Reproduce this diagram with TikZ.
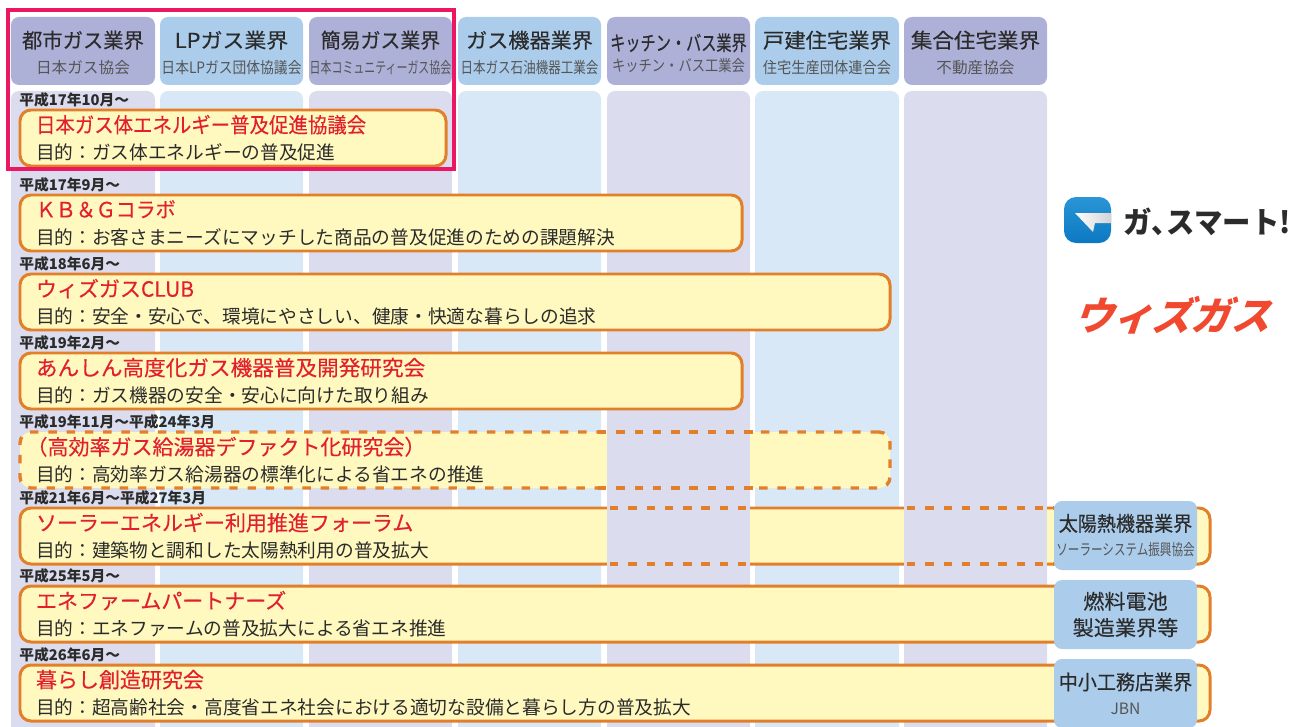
\documentclass[tikz,border=0pt]{standalone}
\usepackage{graphicx}
\usepackage{fontspec}
\setmainfont{Noto Sans CJK JP}
\newfontfamily\midfont[FakeBold=.25]{Noto Sans CJK JP}
\newfontfamily\wzfont[FakeSlant=.35]{Noto Sans CJK JP}
\definecolor{headlav}{HTML}{ADB1D8}
\definecolor{headblue}{HTML}{ABCDEB}
\definecolor{bodylav}{HTML}{DBDCEE}
\definecolor{bodyblue}{HTML}{D9E8F6}
\definecolor{bandfill}{HTML}{FFF9C0}
\definecolor{bandline}{HTML}{E27F2A}
\definecolor{bandred}{HTML}{E21F2E}
\definecolor{framepink}{HTML}{EB1763}
\definecolor{inkdark}{HTML}{2B2B2B}
\definecolor{inkgrey}{HTML}{555555}
\definecolor{wzred}{HTML}{F0492F}
\definecolor{icontop}{HTML}{2A96D6}
\definecolor{iconlow}{HTML}{0B78C2}
\newcommand{\hname}[2]{\scalebox{#1}[1]{\fontsize{11.67}{14}\selectfont\midfont\color{inkdark}#2}}
\newcommand{\hsub}[2]{\scalebox{#1}[1]{\fontsize{8.9}{11}\selectfont\color{inkgrey}#2}}
\tikzset{
 headbox/.style={anchor=north west,rounded corners=.16cm,inner sep=0pt,outer sep=0pt,align=center,
  minimum height=68*.02cm},
 bandbox/.style={anchor=north west,rounded corners=.22cm,fill=bandfill,draw=bandline,
  line width=1.7pt,inner xsep=16*.02cm,inner ysep=0pt,outer sep=0pt,align=left,
  minimum height=56*.02cm,font=\fontsize{10.65}{15.3}\selectfont,text=inkdark},
 solidband/.style={},
 dashband/.style={line width=1.9pt,dash pattern=on 4.8pt off 5.6pt},
 datelabel/.style={anchor=south west,inner sep=0pt,font=\fontsize{8.4}{10}\selectfont\bfseries,text=inkdark}
}
\begin{document}
\begin{tikzpicture}[x=.02cm,y=-.02cm]
 \useasboundingbox (0,0) rectangle (1300,726);
 \clip (0,0) rectangle (1300,726);
 % columns
 \foreach \colx/\colw/\coltone in {11/144/lav,160/143/blue,309/143/lav,458/143/blue,607/143/lav,755/144/blue,904/143/lav}
 {
     \fill[body\coltone,rounded corners=.16cm] (\colx,91) rectangle +(\colw,660);
 }
 % heads
 \foreach \hid/\colx/\colw/\coltone/\hs/\htext/\ss/\stext in {
  city/11/144/lav/.99/都市ガス業界/1/日本ガス協会,
  lpg/160/143/blue/1.07/LPガス業界/.88/日本LPガス団体協議会,
  easy/309/143/lav/.97/簡易ガス業界/.7/日本コミュニティーガス協会,
  appl/458/143/blue/1.03/ガス機器業界/.8/日本ガス石油機器工業会,
  kit/607/143/lav/.74/\raisebox{-1.1pt}{キッチン・バス業界}/.85/\raisebox{1.7pt}{キッチン・バス工業会},
  house/755/144/blue/1.04/戸建住宅業界/.91/住宅生産団体連合会,
  flat/904/143/lav/1.05/集合住宅業界/1/不動産協会}
 {
     \node[headbox,fill=head\coltone,minimum width=\colw*.02cm] (\hid) at (\colx,17)
      {\rule{0pt}{12pt}\hname{\hs}{\htext}\\[2.7pt]\hsub{\ss}{\stext}};
 }
 % bands
 \foreach \bid/\btop/\bwide/\sty/\stamp/\bname/\aim in {
  promo/110/426/solidband/平成17年10月～/\scalebox{.925}[1]{日本ガス体エネルギー普及促進協議会}/ガス体エネルギーの普及促進,
  kbg/195/722/solidband/平成17年9月～/\scalebox{.95}[1]{ＫＢ＆Ｇコラボ}/お客さまニーズにマッチした商品の普及促進のための課題解決,
  wgclub/274/870/solidband/平成18年6月～/ウィズガスCLUB/安全・安心で、環境にやさしい、健康・快適な暮らしの追求,
  anshin/353/722/solidband/平成19年2月～/\scalebox{1.03}[1]{あんしん高度化ガス機器普及開発研究会}/ガス機器の安全・安心に向けた取り組み,
  defacto/432/870/dashband/平成19年11月～平成24年3月/\hspace*{-.45em}（高効率ガス給湯器デファクト化研究会）/高効率ガス給湯器の標準化による省エネの推進,
  solar/508/1190/solidband/平成21年6月～平成27年3月/ソーラーエネルギー利用推進フォーラム/建築物と調和した太陽熱利用の普及拡大,
  efarm/586/1190/solidband/平成25年5月～/エネファームパートナーズ/エネファームの普及拡大による省エネ推進,
  kurashi/665/1190/solidband/平成26年6月～/暮らし創造研究会/超高齢社会・高度省エネ社会における適切な設備と暮らし方の普及拡大}
 {
     \node[bandbox,\sty,minimum width=\bwide*.02cm,text width=(\bwide-32)*.02cm] (\bid) at (20,\btop)
      {{\fontsize{11.95}{15}\selectfont\midfont\color{bandred}\bname}\\目的：\aim};
     \node[datelabel] (\bid date) at ([xshift=-1*.02cm,yshift=3*.02cm]\bid.north west) {\stamp};
 }
 % column shows through the dashed parts
 \fill[bodylav] (607,429) rectangle (750,491);
 \fill[bodylav] (607,505) rectangle (750,567);
 \fill[bodylav] (904,505) rectangle (1047,567);
 \foreach \btop in {432,488}
 {
     \draw[bandline,dashband] (598,\btop)--(760,\btop);
 }
 \foreach \btop in {508,564}
 {
     \draw[bandline,dashband] (610,\btop)--(750,\btop);
     \draw[bandline,dashband] (907,\btop)--(1054,\btop);
 }
 % extra heads on the right
 \node[headbox,fill=headblue,minimum width=143*.02cm,minimum height=69*.02cm] (solarhead) at (1054,501)
  {\hname{.93}{太陽熱機器業界}\\[2pt]\hsub{.74}{ソーラーシステム振興協会}};
 \node[headbox,fill=headblue,minimum width=143*.02cm,minimum height=69*.02cm] (fuelhead) at (1054,580)
  {\hname{1.03}{燃料電池}\\[3pt]\hname{1.03}{製造業界等}};
 \node[headbox,fill=headblue,minimum width=143*.02cm,minimum height=69*.02cm] (smallhead) at (1054,659)
  {\hname{.93}{中小工務店業界}\\[2pt]\hsub{1}{JBN}};
 % pink frame
 \draw[framepink,line width=2.3pt] (8,10) rectangle (454,169);
 % logos
 \shade[top color=icontop,bottom color=iconlow,rounded corners=.24cm] (1064,197) rectangle (1111,243);
 \shade[left color=white,right color=gray!35] (1075,213)--(1111,213)--(1111,223)--(1095,223)--(1093,232)--cycle;
 \node[anchor=west,inner sep=0pt,text=inkdark] (gasmart) at (1123,222)
  {\scalebox{.95}[1]{\fontsize{17}{20}\selectfont\bfseries ガ、\hspace{-.45em}スマート!}};
 \node[anchor=west,inner sep=0pt,font=\fontsize{22.3}{26}\selectfont\bfseries\wzfont,text=wzred] (withgas) at (1073,315) {ウィズガス};
\end{tikzpicture}
\end{document}
